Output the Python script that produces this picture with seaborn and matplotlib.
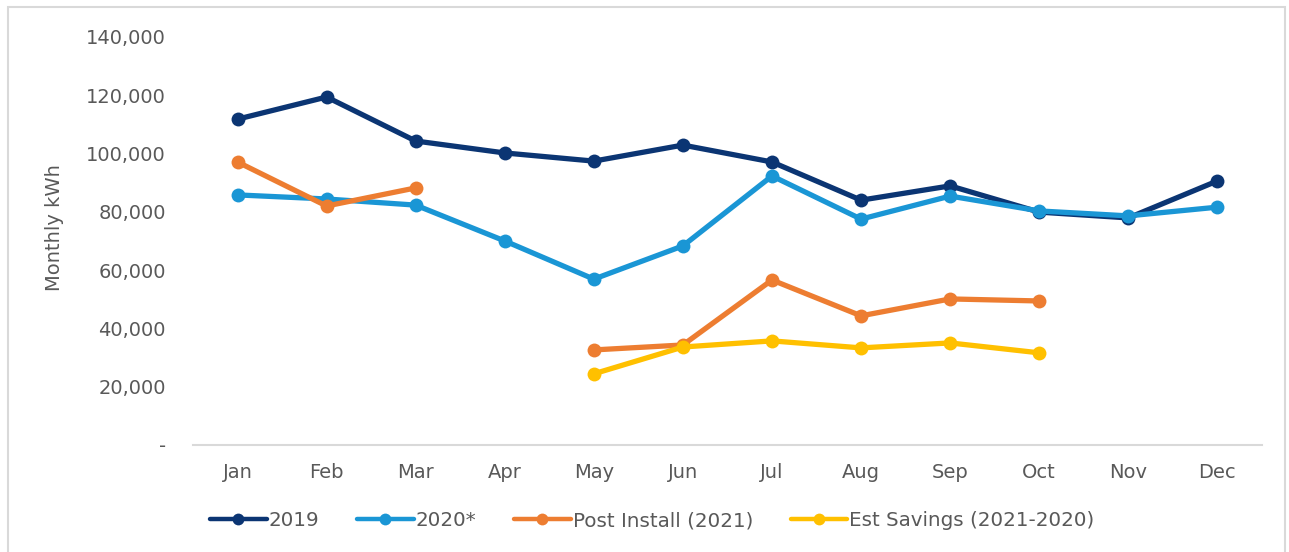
import numpy as np
import pandas as pd
import matplotlib
matplotlib.use("Agg")
import matplotlib.pyplot as plt
import matplotlib.patches as mpatches
from matplotlib.lines import Line2D
from matplotlib.ticker import FuncFormatter
import seaborn as sns

# data
months = ["Jan", "Feb", "Mar", "Apr", "May", "Jun", "Jul", "Aug", "Sep", "Oct", "Nov", "Dec"]
kwh_2019 = [111800, 119400, 104300, 100200, 97400, 102900, 97100, 84000, 88900, 79900, 77900, 90600]
kwh_2020 = [85800, 84400, 82300, 70000, 56900, 68300, 92300, 77500, 85400, 80300, 78600, 81600]
post_install = [97100, 82000, 88200, np.nan, 32600, 34300, 56600, 44300, 50100, 49400, np.nan, np.nan]
est_savings = [np.nan, np.nan, np.nan, np.nan, 24400, 33600, 35700, 33300, 35000, 31600, np.nan, np.nan]

series = ["2019", "2020*", "Post Install (2021)", "Est Savings (2021-2020)"]
values = [kwh_2019, kwh_2020, post_install, est_savings]
colors = ["#0B3573", "#1A96D5", "#ED7D31", "#FFC000"]

# long table; 'seg' splits a series where a month is missing so the line breaks
rows = []
for name, vals in zip(series, values):
    seg = 0
    prev_nan = True
    for i, v in enumerate(vals):
        if pd.isna(v):
            prev_nan = True
            continue
        if prev_nan:
            seg += 1
        prev_nan = False
        rows.append({"month": i, "kwh": v, "series": name, "seg": seg})
df = pd.DataFrame(rows)

sns.set_style("white")
plt.rcParams["font.family"] = ["DejaVu Sans"]

fig = plt.figure(figsize=(12.89, 5.52), dpi=100)
ax = fig.add_axes([0.1497, 0.194, 0.8293, 0.739])

sns.lineplot(data=df, x="month", y="kwh", hue="series", units="seg", estimator=None,
             palette=dict(zip(series, colors)), hue_order=series,
             marker="o", markersize=10, markeredgewidth=0, linewidth=3.8,
             legend=False, ax=ax)

ax.set_xlim(-0.5, 11.5)
ax.set_ylim(0, 140000)
ax.set_yticks(range(0, 140001, 20000))
ax.yaxis.set_major_formatter(FuncFormatter(lambda v, p: "-" if v == 0 else f"{v:,.0f}"))
ax.set_xticks(range(12))
ax.set_xticklabels(months)
ax.tick_params(axis="both", length=0, colors="#595959", labelsize=14)
ax.tick_params(axis="y", pad=19.5)
ax.tick_params(axis="x", pad=13)
ax.set_xlabel("")
ax.set_ylabel("Monthly kWh", fontsize=14, color="#595959")
ax.yaxis.set_label_coords(-0.121, 0.532)

for s in ["top", "right", "left"]:
    ax.spines[s].set_visible(False)
ax.spines["bottom"].set_color("#d9d9d9")
ax.spines["bottom"].set_linewidth(1.5)

handles = [Line2D([0], [0], color=c, lw=3.2, marker="o", markersize=8.5, markeredgewidth=0)
           for c in colors]
fig.legend(handles, series, loc="center", bbox_to_anchor=(0.506, 0.057), ncol=4,
           frameon=False, handlelength=2.85, handletextpad=0.1, columnspacing=1.9,
           prop={"size": 14.3}, labelcolor="#595959")

fig.patches.append(mpatches.Rectangle((0.006, -0.01), 0.991, 0.997, transform=fig.transFigure,
                                      fill=False, edgecolor="#d9d9d9", linewidth=1.5))

fig.savefig("out.png", dpi=100)
